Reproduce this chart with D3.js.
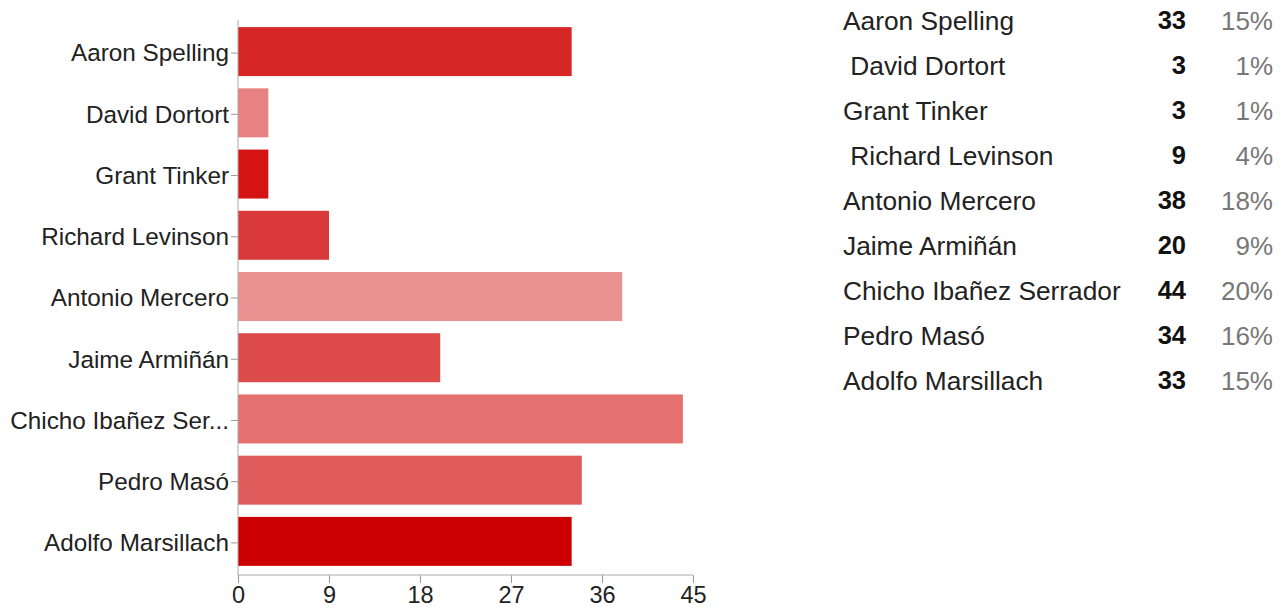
<!DOCTYPE html>
<html>
<head>
<meta charset="utf-8">
<script src="https://cdn.jsdelivr.net/npm/d3@7"></script>
<style>
  body { margin: 0; background: #fff; }
  text { font-family: "Liberation Sans", Arial, sans-serif; }
</style>
</head>
<body>
<div id="chart"></div>
<script>
// data
const names = ["Aaron Spelling", "David Dortort", "Grant Tinker", "Richard Levinson", "Antonio Mercero",
  "Jaime Armiñán", "Chicho Ibañez Serrador", "Pedro Masó", "Adolfo Marsillach"];
const tableNames = ["Aaron Spelling", " David Dortort", "Grant Tinker", " Richard Levinson", "Antonio Mercero",
  "Jaime Armiñán", "Chicho Ibañez Serrador", "Pedro Masó", "Adolfo Marsillach"];
const counts = [33, 3, 3, 9, 38, 20, 44, 34, 33];
const barColors = ["#d62626", "#e88181", "#d41313", "#da3a3a", "#ea9191", "#dd4a4a", "#e57070", "#e05c5c", "#cc0000"];
const xTicks = [0, 9, 18, 27, 36, 45];

const width = 1283, height = 610;
const svg = d3.select("#chart").append("svg")
  .attr("width", width)
  .attr("height", height);

const x = d3.scaleLinear().domain([0, 45]).range([238, 693]);
const y = d3.scaleBand().domain(names).range([21, 572]).paddingInner(0.2).paddingOuter(0.1);
const axisY = 575;

// bars
svg.selectAll("rect.bar")
  .data(names)
  .join("rect")
  .attr("class", "bar")
  .attr("x", x(0))
  .attr("y", d => y(d))
  .attr("width", (d, i) => x(counts[i]) - x(0))
  .attr("height", y.bandwidth())
  .attr("fill", (d, i) => barColors[i]);

// y axis
const yAxis = svg.append("g")
  .attr("transform", `translate(${x(0)},0)`)
  .call(d3.axisLeft(y).tickSize(7).tickPadding(2).tickSizeOuter(0));
yAxis.select(".domain").remove();
yAxis.selectAll(".tick line").attr("stroke", "#999").attr("transform", "translate(0,1.5)");
yAxis.selectAll(".tick text")
  .attr("fill", "#222")
  .attr("y", 2)
  .style("font-size", "24.3px")
  .each(function (d) {
    const t = d3.select(this);
    let s = d;
    while (this.getComputedTextLength() > 222 && s.length > 1) {
      s = s.slice(0, -1);
      t.text(s.trimEnd() + "...");
    }
  });

// x axis
const xAxis = svg.append("g")
  .attr("transform", `translate(0,${axisY})`)
  .call(d3.axisBottom(x).tickValues(xTicks).tickSize(8).tickPadding(3).tickSizeOuter(0));
xAxis.select(".domain").remove();
xAxis.selectAll(".tick line").attr("stroke", "#999");
xAxis.selectAll(".tick text").attr("fill", "#222").style("font-size", "23.5px");

svg.append("line")
  .attr("x1", x(0)).attr("x2", x(0))
  .attr("y1", y.range()[0] - 1).attr("y2", axisY)
  .attr("stroke", "#aaa");
svg.append("line")
  .attr("x1", x(0)).attr("x2", x(45))
  .attr("y1", axisY).attr("y2", axisY)
  .attr("stroke", "#aaa");

// summary table on the right
const total = d3.sum(counts);
const row = d3.scaleBand().domain(d3.range(names.length)).range([0, 405]);
const table = svg.append("g").attr("transform", "translate(843,0)");
const rows = table.selectAll("g")
  .data(tableNames)
  .join("g")
  .attr("transform", (d, i) => `translate(0,${row(i) + row.bandwidth() / 2 - 2})`);
rows.append("text")
  .attr("dy", "0.35em")
  .attr("fill", "#222")
  .style("font-size", "26.3px")
  .style("white-space", "pre")
  .text(d => d);
rows.append("text")
  .attr("x", 343)
  .attr("dy", "0.35em")
  .attr("text-anchor", "end")
  .attr("fill", "#111")
  .style("font-size", "25.5px")
  .style("font-weight", "bold")
  .text((d, i) => counts[i]);
rows.append("text")
  .attr("x", 430)
  .attr("dy", "0.35em")
  .attr("text-anchor", "end")
  .attr("fill", "#777")
  .style("font-size", "26px")
  .text((d, i) => Math.round(counts[i] / total * 100) + "%");
</script>
</body>
</html>
